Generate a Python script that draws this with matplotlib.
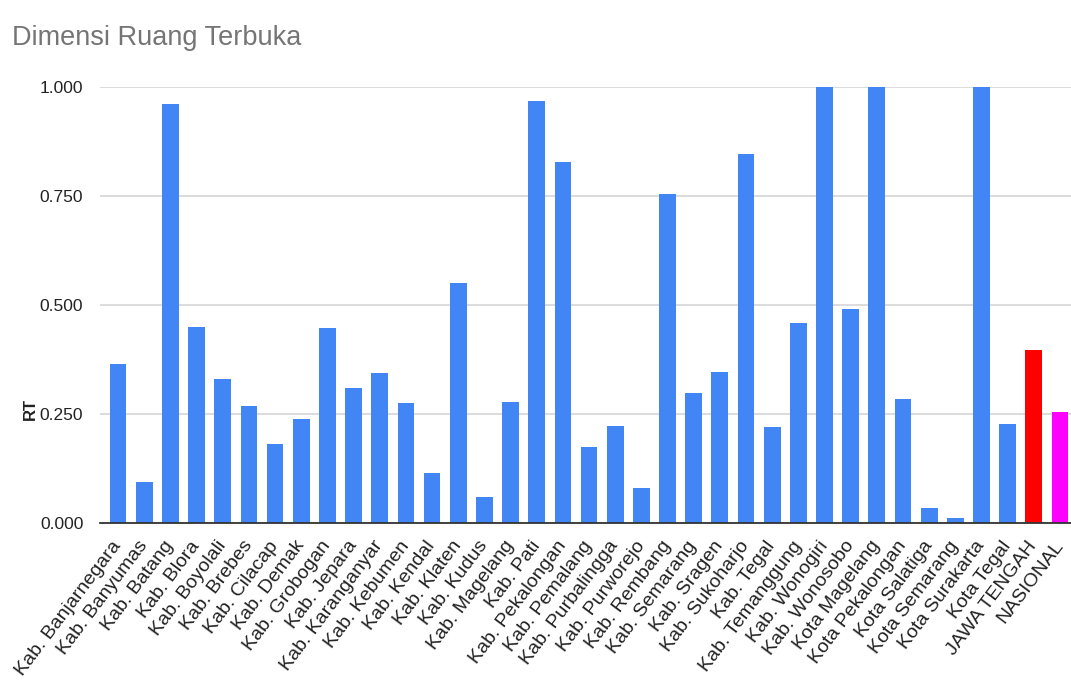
import matplotlib
matplotlib.use("Agg")
import matplotlib.pyplot as plt

regions = [
    "Kab. Banjarnegara", "Kab. Banyumas", "Kab. Batang", "Kab. Blora", "Kab. Boyolali",
    "Kab. Brebes", "Kab. Cilacap", "Kab. Demak", "Kab. Grobogan", "Kab. Jepara",
    "Kab. Karanganyar", "Kab. Kebumen", "Kab. Kendal", "Kab. Klaten", "Kab. Kudus",
    "Kab. Magelang", "Kab. Pati", "Kab. Pekalongan", "Kab. Pemalang", "Kab. Purbalingga",
    "Kab. Purworejo", "Kab. Rembang", "Kab. Semarang", "Kab. Sragen", "Kab. Sukoharjo",
    "Kab. Tegal", "Kab. Temanggung", "Kab. Wonogiri", "Kab. Wonosobo", "Kota Magelang",
    "Kota Pekalongan", "Kota Salatiga", "Kota Semarang", "Kota Surakarta", "Kota Tegal",
    "JAWA TENGAH", "NASIONAL",
]

rt_values = [
    0.366, 0.095, 0.960, 0.450, 0.330,
    0.269, 0.181, 0.240, 0.447, 0.311,
    0.344, 0.275, 0.115, 0.550, 0.060,
    0.279, 0.968, 0.828, 0.176, 0.223,
    0.082, 0.754, 0.298, 0.347, 0.846,
    0.221, 0.458, 1.000, 0.492, 1.000,
    0.286, 0.036, 0.013, 1.000, 0.227,
    0.398, 0.256,
]

y_ticks = [0.0, 0.25, 0.5, 0.75, 1.0]
y_tick_labels = ["0.000", "0.250", "0.500", "0.750", "1.000"]

BLUE = "#4285F4"
colors = [BLUE] * len(regions)
colors[regions.index("JAWA TENGAH")] = "#FF0000"
colors[regions.index("NASIONAL")] = "#FF00FF"

plt.rcParams["font.family"] = ["Liberation Sans", "DejaVu Sans"]

fig = plt.figure(figsize=(10.71, 6.91), dpi=100)
ax = fig.add_axes([0.0934, 0.2427, 0.9066, 0.6314])

x = list(range(len(regions)))
ax.bar(x, rt_values, width=0.64, color=colors, zorder=3)

ax.set_xlim(-0.69, len(regions) - 1 + 0.42)
ax.set_ylim(0, 1.0)
ax.set_yticks(y_ticks)
ax.set_yticklabels(y_tick_labels, fontsize=12.5, color="#222222")
ax.yaxis.grid(True, color="#d6d6d6", linewidth=1.2, zorder=0)
ax.tick_params(axis="y", length=0, pad=12)
ax.tick_params(axis="x", length=0, pad=14)

ax.set_xticks(x)
ax.set_xticklabels(regions, rotation=53, ha="right", va="center",
                   rotation_mode="anchor", fontsize=14, color="#222222")

for side in ("top", "right", "left"):
    ax.spines[side].set_visible(False)
ax.spines["bottom"].set_color("#333333")
ax.spines["bottom"].set_linewidth(1.3)
ax.spines["bottom"].set_zorder(4)

fig.text(0.028, 0.4085, "RT", rotation=90, fontsize=12, fontweight="bold",
         color="#222222", ha="center", va="center")

fig.text(0.011, 0.945, "Dimensi Ruang Terbuka", fontsize=19.5, color="#757575",
         ha="left", va="center")

fig.savefig("out.png", dpi=100, facecolor="white")
